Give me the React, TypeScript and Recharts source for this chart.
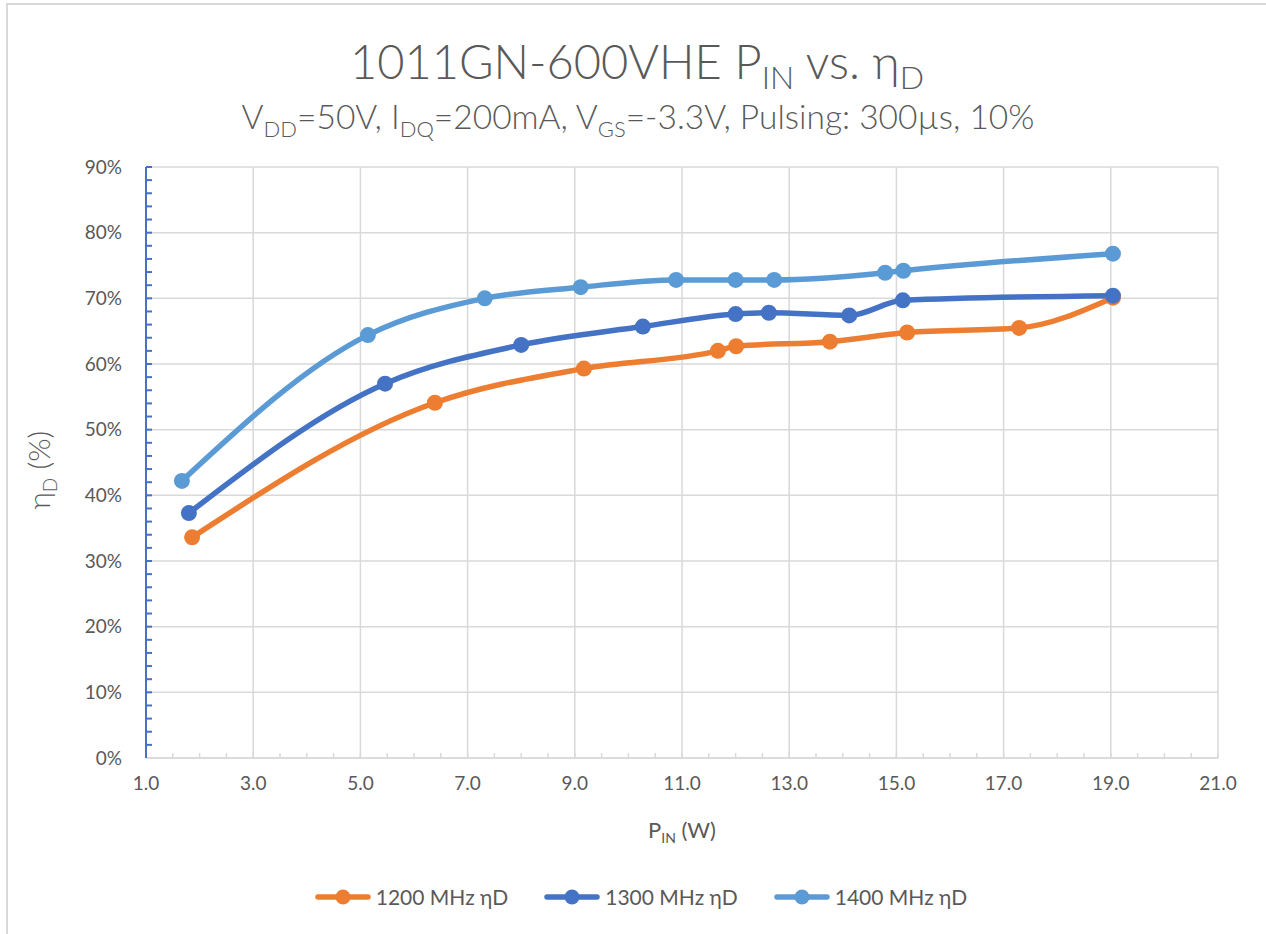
import React from 'react';
import { LineChart, Line, XAxis, YAxis, CartesianGrid } from 'recharts';

const x1200 = [1.86, 6.39, 9.17, 11.67, 12.01, 13.76, 15.2, 17.29, 19.04];
const y1200 = [33.6, 54.1, 59.3, 62.0, 62.7, 63.4, 64.8, 65.5, 70.1];
const x1300 = [1.8, 5.46, 8.0, 10.27, 12.0, 12.62, 14.12, 15.12, 19.04];
const y1300 = [37.3, 57.0, 62.9, 65.7, 67.6, 67.8, 67.4, 69.7, 70.4];
const x1400 = [1.67, 5.14, 7.32, 9.11, 10.89, 12.0, 12.72, 14.79, 15.13, 19.04];
const y1400 = [42.2, 64.4, 70.0, 71.7, 72.8, 72.8, 72.8, 73.9, 74.2, 76.8];

const seriesNames = ['1200 MHz ηD', '1300 MHz ηD', '1400 MHz ηD'];
const seriesColors = ['#ED7D31', '#4472C4', '#5B9BD5'];

const xTicks = [1, 3, 5, 7, 9, 11, 13, 15, 17, 19, 21];
const xMinorTicks = [1, 1.5, 2, 2.5, 3, 3.5, 4, 4.5, 5, 5.5, 6, 6.5, 7, 7.5, 8, 8.5, 9, 9.5, 10, 10.5, 11, 11.5, 12, 12.5, 13, 13.5, 14, 14.5, 15, 15.5, 16, 16.5, 17, 17.5, 18, 18.5, 19, 19.5, 20, 20.5, 21];
const yTicks = [0, 10, 20, 30, 40, 50, 60, 70, 80, 90];
const yMinorTicks = [0, 2, 4, 6, 8, 10, 12, 14, 16, 18, 20, 22, 24, 26, 28, 30, 32, 34, 36, 38, 40, 42, 44, 46, 48, 50, 52, 54, 56, 58, 60, 62, 64, 66, 68, 70, 72, 74, 76, 78, 80, 82, 84, 86, 88, 90];

const zip = (xs: number[], ys: number[]) => xs.map((x, i) => ({ x, y: ys[i] }));
const seriesData = [zip(x1200, y1200), zip(x1300, y1300), zip(x1400, y1400)];

const FONT = 'Lato, "Open Sans", sans-serif';
const TXT = '#595959';
const GRID = '#d9d9d9';
const AXIS_BLUE = '#4472C4';
const Y_TICK_MARGIN = 24;

const EmptyTick = () => <g />;

const YTick = (props: any) => {
  const { x, y, payload } = props;
  const axisX = x + Y_TICK_MARGIN;
  const major = yTicks.includes(payload.value);
  return (
    <g>
      {payload.value > 0 && <line x1={axisX} y1={y} x2={axisX + 6} y2={y} stroke={AXIS_BLUE} strokeWidth={2} />}
      {major && (
        <text x={x} y={y} dy="0.355em" textAnchor="end" fill={TXT} fontSize={19} fontFamily={FONT}>
          {`${payload.value}%`}
        </text>
      )}
    </g>
  );
};

export default function App() {
  return (
    <div style={{ position: 'absolute', left: 0, top: 0, width: 1266, height: 934, background: '#fff', overflow: 'hidden', fontFamily: FONT }}>
      <div style={{ position: 'absolute', left: 6, top: 3, width: 1300, height: 1000, borderTop: `2px solid ${GRID}`, borderLeft: `2px solid ${GRID}` }} />
      <div style={{ position: 'absolute', left: 0, width: 1274, top: 36, textAlign: 'center', fontSize: 47, fontWeight: 300, color: TXT, lineHeight: '50px', whiteSpace: 'nowrap' }}>
        1011GN-600VHE P<span style={{ fontSize: 32, position: 'relative', top: 10 }}>IN</span> vs. η<span style={{ fontSize: 32, position: 'relative', top: 10 }}>D</span>
      </div>
      <div style={{ position: 'absolute', left: 0, width: 1276, top: 99, textAlign: 'center', fontSize: 33.5, fontWeight: 300, color: TXT, lineHeight: '34px', whiteSpace: 'nowrap' }}>
        V<span style={{ fontSize: 22, position: 'relative', top: 8 }}>DD</span>=50V, I<span style={{ fontSize: 22, position: 'relative', top: 8 }}>DQ</span>=200mA, V<span style={{ fontSize: 22, position: 'relative', top: 8 }}>GS</span>=-3.3V, Pulsing: 300µs, 10%
      </div>

      <div style={{ position: 'absolute', left: 0, top: 0 }}>
        <LineChart width={1266} height={934} margin={{ top: 167, right: 48, bottom: 146, left: 0 }}>
          <CartesianGrid stroke={GRID} strokeWidth={1.5} horizontal vertical horizontalValues={yTicks} verticalValues={xTicks} />
          <XAxis
            dataKey="x"
            type="number"
            domain={[1, 21]}
            ticks={xTicks}
            interval={0}
            allowDataOverflow
            height={30}
            tickFormatter={(v: number) => v.toFixed(1)}
            axisLine={{ stroke: GRID, strokeWidth: 1.5 }}
            tickLine={false}
            tickSize={0}
            tickMargin={19}
            tick={{ fill: TXT, fontSize: 19, fontFamily: FONT }}
          />
          <XAxis
            xAxisId="minor"
            dataKey="x"
            type="number"
            domain={[1, 21]}
            ticks={xMinorTicks}
            interval={0}
            allowDataOverflow
            mirror
            height={30}
            axisLine={false}
            tick={EmptyTick}
            tickLine={{ stroke: GRID, strokeWidth: 1.5 }}
            tickSize={5}
          />
          <YAxis
            type="number"
            domain={[0, 90]}
            ticks={yMinorTicks}
            interval={0}
            width={146}
            axisLine={{ stroke: AXIS_BLUE, strokeWidth: 2 }}
            tickLine={false}
            tickSize={0}
            tickMargin={Y_TICK_MARGIN}
            tick={YTick}
          />
          {seriesData.map((d, i) => (
            <Line
              key={seriesNames[i]}
              data={d}
              dataKey="y"
              type="monotone"
              stroke={seriesColors[i]}
              strokeWidth={5.5}
              dot={{ r: 8, fill: seriesColors[i], stroke: seriesColors[i], strokeWidth: 0 }}
              activeDot={false}
              isAnimationActive={false}
            />
          ))}
        </LineChart>
      </div>

      <div style={{ position: 'absolute', left: 38, top: 470, transform: 'translate(-50%, -50%) rotate(-90deg)', fontSize: 30, fontWeight: 300, color: TXT, whiteSpace: 'nowrap' }}>
        η<span style={{ fontSize: 19, position: 'relative', top: 7 }}>D</span> (%)
      </div>
      <div style={{ position: 'absolute', left: 682, top: 829, transform: 'translate(-50%, -50%)', fontSize: 22, color: TXT, whiteSpace: 'nowrap' }}>
        P<span style={{ fontSize: 14, position: 'relative', top: 5 }}>IN</span> (W)
      </div>

      <div style={{ position: 'absolute', left: 0, width: 1282, top: 883, display: 'flex', justifyContent: 'center', gap: 36, fontSize: 21, color: TXT }}>
        {seriesNames.map((n, i) => (
          <div key={n} style={{ display: 'flex', alignItems: 'center', gap: 5 }}>
            <svg width={56} height={20}>
              <line x1={3} y1={10} x2={53} y2={10} stroke={seriesColors[i]} strokeWidth={5.5} strokeLinecap="round" />
              <circle cx={28} cy={10} r={7.5} fill={seriesColors[i]} />
            </svg>
            <span style={{ lineHeight: '28px' }}>{n}</span>
          </div>
        ))}
      </div>
    </div>
  );
}
